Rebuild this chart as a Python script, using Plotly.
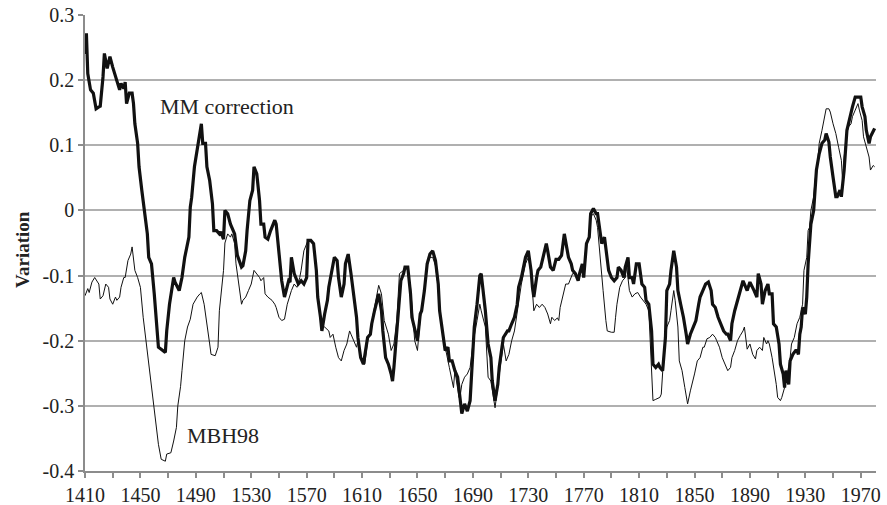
import plotly.graph_objects as go

# ---- data ----
mm_years = [1410,1411,1412,1414,1416,1418,1420,1421,1423,1424,1426,1428,1430,1433,1435,1436,1438,1439,1440,1442,1444,1445,1446,1448,1449,1451,1453,1455,1456,1458,1460,1462,1463,1465,1468,1469,1471,1474,1475,1478,1480,1482,1485,1486,1487,1489,1491,1492,1494,1495,1497,1498,1500,1502,1503,1505,1507,1508,1510,1511,1513,1515,1518,1520,1523,1524,1526,1527,1529,1531,1532,1534,1536,1537,1539,1540,1542,1544,1547,1548,1550,1552,1554,1555,1557,1558,1559,1561,1562,1564,1566,1568,1570,1571,1573,1575,1577,1578,1580,1581,1583,1585,1586,1588,1590,1592,1593,1595,1597,1598,1600,1602,1604,1606,1607,1609,1611,1613,1614,1616,1617,1619,1621,1622,1624,1625,1627,1629,1631,1632,1633,1635,1637,1638,1640,1641,1643,1645,1646,1648,1650,1652,1653,1655,1657,1659,1661,1663,1665,1666,1668,1670,1672,1673,1675,1677,1679,1680,1681,1682,1684,1686,1688,1689,1690,1691,1693,1695,1696,1697,1698,1699,1701,1703,1704,1706,1708,1709,1711,1712,1715,1716,1718,1720,1722,1723,1725,1727,1728,1730,1732,1733,1734,1736,1737,1739,1741,1743,1744,1746,1748,1750,1752,1754,1756,1758,1759,1761,1762,1764,1766,1767,1769,1770,1772,1774,1775,1777,1779,1780,1782,1783,1785,1787,1788,1790,1792,1794,1795,1797,1799,1800,1802,1803,1805,1806,1808,1810,1812,1814,1815,1817,1819,1820,1822,1824,1825,1827,1829,1830,1832,1833,1835,1837,1838,1840,1842,1844,1845,1847,1849,1851,1853,1854,1856,1858,1860,1862,1863,1865,1867,1869,1871,1873,1874,1876,1877,1879,1881,1883,1885,1886,1888,1890,1892,1893,1895,1896,1898,1899,1901,1903,1904,1906,1907,1909,1911,1912,1914,1915,1916,1918,1919,1921,1923,1924,1925,1926,1927,1928,1930,1931,1932,1933,1934,1936,1937,1938,1940,1942,1944,1945,1947,1948,1950,1952,1953,1955,1956,1958,1960,1961,1963,1964,1966,1968,1970,1971,1973,1974,1976,1977,1979,1980]
mm_values = [0.24,0.272,0.21,0.185,0.18,0.156,0.159,0.16,0.205,0.241,0.218,0.236,0.22,0.2,0.185,0.195,0.187,0.197,0.164,0.18,0.18,0.164,0.133,0.103,0.067,0.031,0.0,-0.036,-0.072,-0.082,-0.128,-0.174,-0.21,-0.213,-0.218,-0.185,-0.144,-0.103,-0.11,-0.123,-0.103,-0.072,-0.041,0.005,0.02,0.067,0.092,0.108,0.133,0.103,0.103,0.067,0.046,0.01,-0.031,-0.031,-0.036,-0.033,-0.044,0.0,-0.005,-0.021,-0.036,-0.069,-0.087,-0.085,-0.062,-0.031,0.015,0.031,0.067,0.056,0.015,-0.021,-0.021,-0.041,-0.044,-0.031,-0.015,-0.021,-0.062,-0.108,-0.133,-0.123,-0.108,-0.11,-0.072,-0.097,-0.103,-0.113,-0.108,-0.113,-0.103,-0.046,-0.046,-0.051,-0.092,-0.133,-0.164,-0.185,-0.159,-0.138,-0.118,-0.092,-0.072,-0.077,-0.103,-0.133,-0.113,-0.082,-0.067,-0.097,-0.133,-0.164,-0.195,-0.226,-0.236,-0.21,-0.195,-0.19,-0.174,-0.154,-0.133,-0.128,-0.154,-0.185,-0.226,-0.236,-0.251,-0.262,-0.241,-0.185,-0.128,-0.108,-0.097,-0.087,-0.087,-0.128,-0.164,-0.185,-0.2,-0.159,-0.154,-0.123,-0.082,-0.067,-0.062,-0.077,-0.113,-0.154,-0.185,-0.215,-0.21,-0.231,-0.231,-0.246,-0.256,-0.277,-0.3,-0.312,-0.297,-0.308,-0.292,-0.251,-0.205,-0.179,-0.144,-0.1,-0.097,-0.118,-0.128,-0.154,-0.205,-0.226,-0.262,-0.292,-0.267,-0.241,-0.21,-0.195,-0.185,-0.185,-0.174,-0.164,-0.144,-0.118,-0.103,-0.082,-0.072,-0.062,-0.092,-0.118,-0.133,-0.103,-0.092,-0.087,-0.067,-0.051,-0.062,-0.087,-0.092,-0.075,-0.075,-0.069,-0.036,-0.062,-0.072,-0.082,-0.092,-0.097,-0.108,-0.097,-0.082,-0.103,-0.051,-0.041,-0.005,0.003,-0.005,-0.005,-0.041,-0.051,-0.041,-0.082,-0.092,-0.103,-0.108,-0.103,-0.087,-0.092,-0.103,-0.087,-0.072,-0.103,-0.103,-0.113,-0.082,-0.082,-0.113,-0.118,-0.138,-0.144,-0.185,-0.236,-0.241,-0.236,-0.241,-0.246,-0.195,-0.123,-0.113,-0.092,-0.062,-0.087,-0.123,-0.144,-0.164,-0.19,-0.205,-0.19,-0.179,-0.169,-0.144,-0.133,-0.123,-0.113,-0.11,-0.123,-0.144,-0.149,-0.164,-0.174,-0.185,-0.19,-0.19,-0.2,-0.174,-0.154,-0.138,-0.123,-0.108,-0.113,-0.123,-0.11,-0.118,-0.123,-0.133,-0.097,-0.113,-0.144,-0.123,-0.113,-0.128,-0.128,-0.174,-0.179,-0.205,-0.236,-0.251,-0.272,-0.246,-0.267,-0.231,-0.221,-0.215,-0.215,-0.221,-0.19,-0.179,-0.149,-0.159,-0.133,-0.082,-0.046,-0.021,0.0,0.031,0.062,0.087,0.103,0.108,0.118,0.105,0.082,0.051,0.021,0.021,0.031,0.021,0.062,0.123,0.133,0.154,0.159,0.174,0.174,0.174,0.159,0.144,0.123,0.103,0.113,0.123,0.126]

mbh_years = [1410,1412,1413,1415,1417,1420,1421,1423,1425,1427,1428,1430,1432,1433,1435,1436,1438,1439,1441,1443,1444,1446,1448,1450,1452,1454,1456,1457,1459,1461,1463,1465,1468,1469,1472,1474,1476,1477,1479,1480,1482,1484,1486,1488,1491,1493,1494,1496,1498,1500,1501,1504,1506,1507,1510,1511,1513,1515,1516,1518,1519,1521,1523,1524,1526,1528,1530,1532,1534,1536,1537,1539,1540,1542,1545,1547,1548,1550,1552,1554,1556,1558,1559,1561,1563,1565,1566,1568,1570,1571,1573,1575,1577,1578,1580,1582,1583,1586,1587,1589,1591,1593,1595,1597,1599,1601,1602,1604,1606,1607,1609,1611,1612,1614,1616,1618,1620,1622,1624,1626,1629,1631,1633,1635,1637,1640,1641,1643,1645,1646,1648,1650,1652,1653,1655,1657,1659,1661,1663,1665,1666,1668,1670,1673,1676,1677,1679,1680,1681,1682,1684,1686,1688,1690,1693,1695,1696,1699,1701,1703,1706,1708,1710,1712,1714,1716,1718,1720,1723,1725,1728,1730,1732,1734,1736,1738,1740,1742,1744,1746,1747,1749,1751,1752,1753,1755,1757,1759,1761,1762,1764,1766,1767,1769,1770,1772,1774,1775,1777,1779,1780,1782,1784,1786,1787,1790,1792,1793,1794,1796,1798,1800,1801,1803,1805,1807,1809,1811,1813,1815,1817,1818,1819,1820,1822,1825,1826,1828,1830,1832,1833,1835,1836,1838,1839,1841,1843,1845,1847,1849,1850,1852,1854,1856,1857,1859,1861,1863,1865,1866,1868,1870,1872,1874,1876,1877,1879,1881,1883,1885,1886,1888,1890,1892,1894,1895,1897,1899,1900,1902,1903,1904,1906,1908,1909,1910,1912,1913,1915,1917,1919,1920,1922,1924,1926,1928,1929,1931,1932,1933,1934,1936,1937,1939,1940,1942,1944,1945,1947,1948,1950,1952,1954,1956,1957,1958,1960,1961,1963,1964,1966,1968,1969,1971,1972,1974,1976,1977,1979,1980]
mbh_values = [-0.131,-0.12,-0.126,-0.11,-0.103,-0.113,-0.136,-0.131,-0.113,-0.118,-0.136,-0.144,-0.133,-0.138,-0.133,-0.118,-0.103,-0.103,-0.077,-0.067,-0.056,-0.092,-0.103,-0.118,-0.164,-0.2,-0.231,-0.256,-0.287,-0.323,-0.359,-0.382,-0.385,-0.374,-0.372,-0.354,-0.333,-0.3,-0.27,-0.246,-0.2,-0.179,-0.167,-0.144,-0.133,-0.128,-0.126,-0.144,-0.179,-0.205,-0.221,-0.223,-0.21,-0.154,-0.092,-0.05,-0.036,-0.041,-0.036,-0.051,-0.082,-0.113,-0.144,-0.138,-0.133,-0.123,-0.113,-0.092,-0.097,-0.103,-0.108,-0.103,-0.128,-0.133,-0.138,-0.144,-0.149,-0.164,-0.169,-0.167,-0.144,-0.128,-0.123,-0.113,-0.118,-0.103,-0.092,-0.062,-0.051,-0.046,-0.046,-0.051,-0.092,-0.133,-0.169,-0.179,-0.179,-0.185,-0.195,-0.19,-0.21,-0.226,-0.231,-0.215,-0.205,-0.185,-0.19,-0.2,-0.21,-0.2,-0.226,-0.236,-0.236,-0.2,-0.185,-0.16,-0.135,-0.115,-0.128,-0.169,-0.19,-0.215,-0.205,-0.17,-0.097,-0.092,-0.087,-0.092,-0.118,-0.144,-0.2,-0.215,-0.165,-0.154,-0.123,-0.085,-0.072,-0.072,-0.085,-0.118,-0.154,-0.185,-0.21,-0.241,-0.272,-0.246,-0.277,-0.287,-0.282,-0.267,-0.256,-0.251,-0.241,-0.205,-0.169,-0.144,-0.154,-0.179,-0.256,-0.262,-0.303,-0.267,-0.236,-0.205,-0.231,-0.221,-0.2,-0.185,-0.144,-0.113,-0.082,-0.072,-0.095,-0.154,-0.144,-0.149,-0.144,-0.149,-0.159,-0.174,-0.164,-0.169,-0.165,-0.169,-0.149,-0.133,-0.113,-0.113,-0.103,-0.097,-0.097,-0.105,-0.097,-0.085,-0.1,-0.051,-0.041,-0.01,-0.005,-0.015,-0.026,-0.082,-0.123,-0.169,-0.185,-0.187,-0.187,-0.164,-0.144,-0.118,-0.108,-0.103,-0.085,-0.123,-0.133,-0.128,-0.126,-0.133,-0.138,-0.144,-0.154,-0.2,-0.256,-0.292,-0.29,-0.287,-0.282,-0.215,-0.179,-0.169,-0.154,-0.123,-0.138,-0.179,-0.231,-0.246,-0.272,-0.297,-0.277,-0.256,-0.251,-0.231,-0.226,-0.21,-0.21,-0.197,-0.195,-0.19,-0.195,-0.2,-0.21,-0.226,-0.236,-0.246,-0.241,-0.226,-0.215,-0.2,-0.192,-0.185,-0.179,-0.213,-0.205,-0.221,-0.228,-0.215,-0.21,-0.215,-0.195,-0.205,-0.2,-0.205,-0.226,-0.251,-0.267,-0.287,-0.292,-0.287,-0.272,-0.251,-0.226,-0.205,-0.195,-0.174,-0.164,-0.144,-0.092,-0.072,-0.031,-0.026,0.0,0.021,0.046,0.077,0.103,0.123,0.149,0.156,0.156,0.151,0.133,0.118,0.097,0.077,0.041,0.082,0.118,0.128,0.133,0.144,0.154,0.164,0.154,0.138,0.113,0.097,0.082,0.062,0.069,0.067]

x_tick_vals = [1410, 1450, 1490, 1530, 1570, 1610, 1650, 1690, 1730, 1770, 1810, 1850, 1890, 1930, 1970]
x_tick_text = [str(v) for v in x_tick_vals]
y_tick_vals = [-0.4, -0.3, -0.2, -0.1, 0.0, 0.1, 0.2, 0.3]
y_tick_text = ["-0.4", "-0.3", "-0.2", "-0.1", "0", "0.1", "0.2", "0.3"]

FONT = "Liberation Serif, Times New Roman, serif"
W, H = 887, 505
ML, MR, MT, MB = 85, 11, 15, 34

fig = go.Figure()
fig.add_trace(go.Scatter(x=mbh_years, y=mbh_values, mode="lines", name="MBH98",
                         line=dict(color="#111111", width=1)))
fig.add_trace(go.Scatter(x=mm_years, y=mm_values, mode="lines", name="MM correction",
                         line=dict(color="#111111", width=3.2)))

fig.update_layout(
    width=W, height=H,
    margin=dict(l=ML, r=MR, t=MT, b=MB, autoexpand=False),
    paper_bgcolor="white", plot_bgcolor="white",
    showlegend=False,
    font=dict(family=FONT, size=19, color="#222222"),
    annotations=[
        dict(text="MM correction", x=1462.5, y=0.159, xref="x", yref="y",
             xanchor="left", yanchor="middle", showarrow=False,
             font=dict(family=FONT, size=22, color="#222222")),
        dict(text="MBH98", x=1482, y=-0.346, xref="x", yref="y",
             xanchor="left", yanchor="middle", showarrow=False,
             font=dict(family=FONT, size=22, color="#222222")),
        dict(text="<b>Variation</b>",
             x=(22 - ML) / (W - ML - MR), y=(H - MB - 250) / (H - MT - MB),
             xref="paper", yref="paper",
             showarrow=False, textangle=-90, xanchor="center", yanchor="middle",
             font=dict(family=FONT, size=19, color="#222222")),
    ],
)

fig.update_xaxes(range=[1410, 1981], tickvals=x_tick_vals, ticktext=x_tick_text,
                 showgrid=False, zeroline=False, showline=True, linecolor="#8c8c8c", linewidth=1.5,
                 ticks="outside", ticklen=5, tickcolor="#8c8c8c", tickwidth=1.5,
                 minor=dict(ticks="outside", tickvals=list(range(1410, 1981, 20)), ticklen=5,
                            tickcolor="#8c8c8c", tickwidth=1.5, showgrid=False),
                 tickfont=dict(family=FONT, size=20, color="#222222"))
fig.update_yaxes(range=[-0.4, 0.3], tickvals=y_tick_vals, ticktext=y_tick_text,
                 showgrid=True, gridcolor="#b0b0b0", gridwidth=1.5, zeroline=False,
                 showline=True, linecolor="#8c8c8c", linewidth=1.5,
                 ticks="outside", ticklen=5, tickcolor="#8c8c8c", tickwidth=1.5,
                 tickfont=dict(family=FONT, size=20, color="#222222"))

fig.write_html("out.html", config={"displayModeBar": False},
               post_script="document.body.style.margin='0';document.body.style.overflow='hidden';")
